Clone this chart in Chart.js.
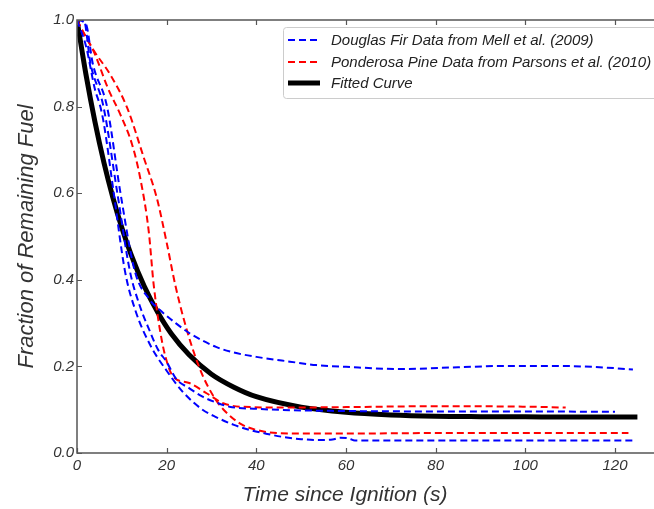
<!DOCTYPE html>
<html>
<head>
<meta charset="utf-8">
<script src="https://cdn.jsdelivr.net/npm/chart.js@4.4.1/dist/chart.umd.min.js"></script>
<style>
  html, body { margin: 0; padding: 0; background: #fff; }
  #wrap { width: 654px; height: 509px; }
</style>
</head>
<body>
<div id="wrap"><canvas id="fuelChart" width="654" height="509"></canvas></div>
<script>
// time (s) / fraction of remaining fuel
const firAT = [0, 2, 3.5, 6.7, 9.7, 12.9, 16.3, 18.5, 22, 25.2, 31, 35, 40, 47.5, 53.4, 60, 72, 85, 95, 107, 115, 124];
const firAV = [1.0, 0.99, 0.9, 0.8, 0.6, 0.42, 0.353, 0.33, 0.3, 0.276, 0.245, 0.232, 0.222, 0.211, 0.203, 0.199, 0.194, 0.198, 0.201, 0.201, 0.199, 0.193];

const firBT = [0, 1.5, 3, 5.9, 9, 11.8, 14, 16.3, 18, 20, 22.2, 25, 28, 31, 34, 40, 47.5, 60, 80, 100, 120];
const firBV = [1.0, 1.0, 0.9, 0.8, 0.6, 0.42, 0.34, 0.28, 0.24, 0.21, 0.17, 0.15, 0.13, 0.117, 0.107, 0.102, 0.099, 0.097, 0.096, 0.096, 0.095];

const firCT = [0, 2, 4, 5.2, 6, 8.2, 10.7, 13, 16.3, 20, 23.7, 28, 31, 35, 38.6, 42, 46, 50, 54, 57, 58.7, 60.5, 62, 70, 124];
const firCV = [1.0, 0.94, 0.84, 0.8, 0.76, 0.6, 0.42, 0.33, 0.25, 0.19, 0.14, 0.1, 0.083, 0.065, 0.053, 0.045, 0.037, 0.032, 0.03, 0.031, 0.035, 0.034, 0.029, 0.029, 0.029];

const pineAT = [0, 1.5, 3.7, 7, 9.7, 12.3, 14.1, 16, 17.1, 18.9, 20.4, 21.5, 25.2, 28.9, 32.6, 36.4, 47.5, 60, 80, 100, 109];
const pineAV = [1.0, 0.97, 0.928, 0.84, 0.781, 0.712, 0.635, 0.512, 0.389, 0.261, 0.199, 0.176, 0.161, 0.138, 0.115, 0.107, 0.105, 0.106, 0.108, 0.107, 0.105];

const pineBT = [0, 1.5, 3.7, 7.4, 11.2, 14.9, 17.8, 20.1, 21.9, 24.5, 27.5, 30.5, 32.7, 36.4, 40.1, 47.5, 60, 80, 100, 123];
const pineBV = [1.0, 0.97, 0.93, 0.874, 0.797, 0.682, 0.589, 0.481, 0.389, 0.284, 0.192, 0.13, 0.1, 0.068, 0.053, 0.045, 0.045, 0.046, 0.046, 0.046];

const fitT = [0, 2, 4, 6, 8, 10, 12, 15, 18, 21, 25, 30, 35, 40, 50, 60, 70, 80, 90, 100, 110, 125];
const fitV = [1.0, 0.874, 0.765, 0.671, 0.59, 0.52, 0.46, 0.385, 0.325, 0.276, 0.227, 0.182, 0.152, 0.13, 0.106, 0.094, 0.088, 0.085, 0.084, 0.0835, 0.083, 0.083];

const xTicks = [0, 20, 40, 60, 80, 100, 120];
const yTicks = [0.0, 0.2, 0.4, 0.6, 0.8, 1.0];

const legendLabels = [
  "Douglas Fir Data from Mell et al. (2009)",
  "Ponderosa Pine Data from Parsons et al. (2010)",
  "Fitted Curve"
];

const BLUE = "#0000ff";
const RED = "#ff0000";
const AXIS = "#555555";
const TEXT = "#333333";
const DASH = [7, 4];

function pts(t, v) {
  return t.map((x, i) => ({ x: x, y: v[i] }));
}

function dashed(t, v, color) {
  return {
    data: pts(t, v),
    borderColor: color,
    borderWidth: 2,
    borderDash: DASH,
    pointRadius: 0,
    fill: false,
    cubicInterpolationMode: "monotone"
  };
}

const datasets = [
  dashed(firAT, firAV, BLUE),
  dashed(firBT, firBV, BLUE),
  dashed(firCT, firCV, BLUE),
  dashed(pineAT, pineAV, RED),
  dashed(pineBT, pineBV, RED),
  {
    data: pts(fitT, fitV),
    borderColor: "#000000",
    borderWidth: 5,
    pointRadius: 0,
    fill: false,
    cubicInterpolationMode: "monotone"
  }
];

// frame, inward ticks, axis titles and the boxed legend
const decorations = {
  id: "decorations",
  afterDraw(chart) {
    const ctx = chart.ctx;
    const a = chart.chartArea;
    const xs = chart.scales.x;
    const ys = chart.scales.y;
    ctx.save();

    ctx.strokeStyle = AXIS;
    ctx.lineWidth = 1.5;
    ctx.beginPath();
    ctx.moveTo(a.right + 2, a.top);
    ctx.lineTo(a.left, a.top);
    ctx.lineTo(a.left, a.bottom);
    ctx.lineTo(a.right + 2, a.bottom);
    ctx.stroke();

    ctx.lineWidth = 1.2;
    ctx.beginPath();
    xTicks.forEach(v => {
      const px = Math.round(xs.getPixelForValue(v)) + 0.5;
      ctx.moveTo(px, a.bottom);
      ctx.lineTo(px, a.bottom - 5);
      ctx.moveTo(px, a.top);
      ctx.lineTo(px, a.top + 5);
    });
    yTicks.forEach(v => {
      const py = Math.round(ys.getPixelForValue(v)) + 0.5;
      ctx.moveTo(a.left, py);
      ctx.lineTo(a.left + 5, py);
    });
    ctx.stroke();

    ctx.fillStyle = TEXT;
    ctx.textAlign = "center";
    ctx.textBaseline = "middle";
    ctx.font = "italic 21px 'Liberation Sans', Arial, sans-serif";
    ctx.fillText("Time since Ignition (s)", 345, 495);
    ctx.save();
    ctx.translate(27, (a.top + a.bottom) / 2);
    ctx.rotate(-Math.PI / 2);
    ctx.font = "italic 22px 'Liberation Sans', Arial, sans-serif";
    ctx.fillText("Fraction of Remaining Fuel", 0, 0);
    ctx.restore();

    // legend box
    const lx = 283, ly = 27, lw = 390, lh = 71;
    ctx.fillStyle = "rgba(255,255,255,0.85)";
    ctx.strokeStyle = "#cccccc";
    ctx.lineWidth = 1;
    ctx.beginPath();
    ctx.roundRect(lx + 0.5, ly + 0.5, lw, lh, 3);
    ctx.fill();
    ctx.stroke();

    const rows = [40, 62, 83];
    const styles = [
      { color: BLUE, width: 2, dash: DASH },
      { color: RED, width: 2, dash: DASH },
      { color: "#000000", width: 5, dash: [] }
    ];
    ctx.textAlign = "left";
    ctx.font = "italic 15px 'Liberation Sans', Arial, sans-serif";
    rows.forEach((y, i) => {
      const s = styles[i];
      ctx.strokeStyle = s.color;
      ctx.lineWidth = s.width;
      ctx.setLineDash(s.dash);
      ctx.beginPath();
      ctx.moveTo(288, y);
      ctx.lineTo(320, y);
      ctx.stroke();
      ctx.setLineDash([]);
      ctx.fillStyle = "#222222";
      ctx.fillText(legendLabels[i], 331, y + 1);
    });

    ctx.restore();
  }
};

new Chart(document.getElementById("fuelChart"), {
  type: "line",
  data: { datasets: datasets },
  plugins: [decorations],
  options: {
    responsive: false,
    animation: false,
    layout: { padding: { top: 20, right: 0, left: 0, bottom: 0 } },
    plugins: {
      legend: { display: false },
      tooltip: { enabled: false }
    },
    scales: {
      x: {
        type: "linear",
        min: 0,
        max: 128.7,
        afterBuildTicks: s => { s.ticks = xTicks.map(v => ({ value: v })); },
        afterFit: s => { s.height = 56; },
        grid: { display: false, drawTicks: false },
        border: { display: false },
        ticks: {
          padding: 4,
          maxRotation: 0,
          color: TEXT,
          font: { family: "'Liberation Sans', Arial, sans-serif", size: 15, style: "italic" },
          callback: v => String(v)
        }
      },
      y: {
        min: 0,
        max: 1,
        afterBuildTicks: s => { s.ticks = yTicks.map(v => ({ value: v })); },
        afterFit: s => { s.width = 77; },
        grid: { display: false, drawTicks: false },
        border: { display: false },
        ticks: {
          padding: 3,
          color: TEXT,
          font: { family: "'Liberation Sans', Arial, sans-serif", size: 15, style: "italic" },
          callback: v => Number(v).toFixed(1)
        }
      }
    }
  }
});
</script>
</body>
</html>
